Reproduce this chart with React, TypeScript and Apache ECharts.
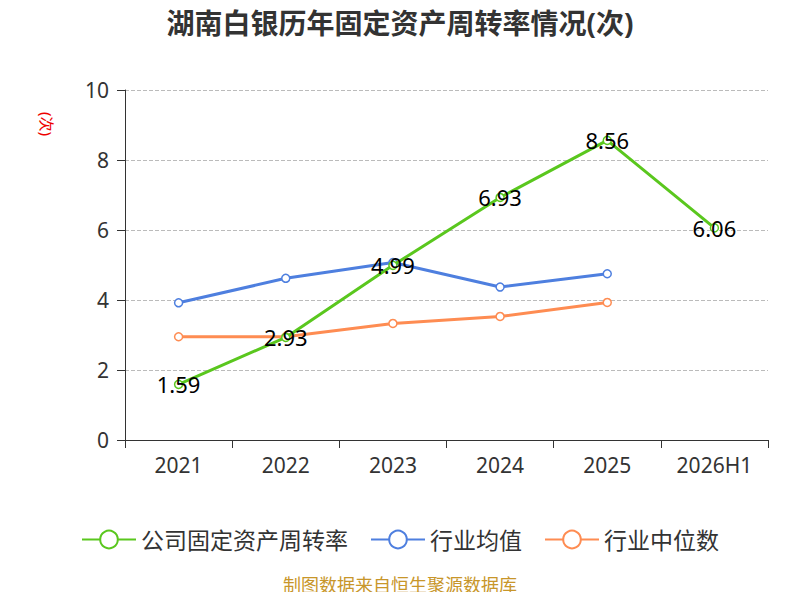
import { useRef, useEffect } from 'react'
import * as echarts from 'echarts'

const years = ['2021', '2022', '2023', '2024', '2025', '2026H1']
const companyRate = [1.59, 2.93, 4.99, 6.93, 8.56, 6.06]
const industryAvg = [3.92, 4.62, 5.07, 4.37, 4.75]
const industryMedian = [2.95, 2.95, 3.33, 3.53, 3.93]

export default function App() {
  const ref = useRef<HTMLDivElement>(null)

  useEffect(() => {
    if (!ref.current) return
    const chart = echarts.init(ref.current, null, { renderer: 'svg' })
    const font = 'Noto Sans, Noto Sans CJK SC, sans-serif'
    const lineSeries = (name: string, data: number[], color: string, label: boolean) => ({
      name,
      type: 'line',
      data,
      symbol: 'circle',
      symbolSize: 8,
      itemStyle: { color: '#fff', borderColor: color, borderWidth: 1.5 },
      lineStyle: { color, width: 3 },
      label: label
        ? { show: true, position: 'inside', color: '#000', fontSize: 22, fontFamily: font }
        : { show: false },
      z: label ? 3 : 2,
    })
    chart.setOption({
      animation: false,
      backgroundColor: '#fff',
      textStyle: { fontFamily: font },
      title: {
        text: '湖南白银历年固定资产周转率情况(次)',
        left: 'center',
        top: 4,
        textStyle: { fontSize: 28, fontWeight: 'bold', color: '#333', fontFamily: font },
      },
      grid: { left: 125, right: 32, top: 90, bottom: 160 },
      legend: {
        bottom: 44,
        itemWidth: 54,
        itemHeight: 22,
        itemGap: 22,
        textStyle: { fontSize: 23, color: '#333', fontFamily: font },
        data: [
          { name: '公司固定资产周转率', itemStyle: { color: '#fff', borderColor: '#5ac71e' } },
          { name: '行业均值', itemStyle: { color: '#fff', borderColor: '#4e7fdf' } },
          { name: '行业中位数', itemStyle: { color: '#fff', borderColor: '#fe8c52' } },
        ],
      },
      graphic: [
        {
          type: 'text',
          left: 'center',
          bottom: 6,
          style: { text: '制图数据来自恒生聚源数据库', fill: '#c8962a', fontSize: 18, fontFamily: font },
        },
        {
          type: 'text',
          x: 55,
          y: 112,
          rotation: -Math.PI / 2,
          originX: 0,
          originY: 0,
          style: { text: '(次)', fill: '#e00', fontSize: 15, fontFamily: font },
        },
      ],
      xAxis: {
        type: 'category',
        data: years,
        boundaryGap: true,
        axisLine: { lineStyle: { color: '#333' } },
        axisTick: { show: true, length: 8, lineStyle: { color: '#333' } },
        axisLabel: { fontSize: 21, color: '#333', margin: 14 },
      },
      yAxis: {
        type: 'value',
        min: 0,
        max: 10,
        interval: 2,
        axisLine: { show: true, lineStyle: { color: '#333' } },
        axisTick: { show: true, length: 8, lineStyle: { color: '#333' } },
        axisLabel: { fontSize: 21, color: '#333', margin: 16 },
        splitLine: { lineStyle: { type: 'dashed', color: '#bbb' } },
      },
      series: [
        lineSeries('公司固定资产周转率', companyRate, '#5ac71e', true),
        lineSeries('行业均值', industryAvg, '#4e7fdf', false),
        lineSeries('行业中位数', industryMedian, '#fe8c52', false),
      ],
    })
    return () => chart.dispose()
  }, [])

  return <div ref={ref} style={{ width: 800, height: 600, margin: -8 }} />
}
